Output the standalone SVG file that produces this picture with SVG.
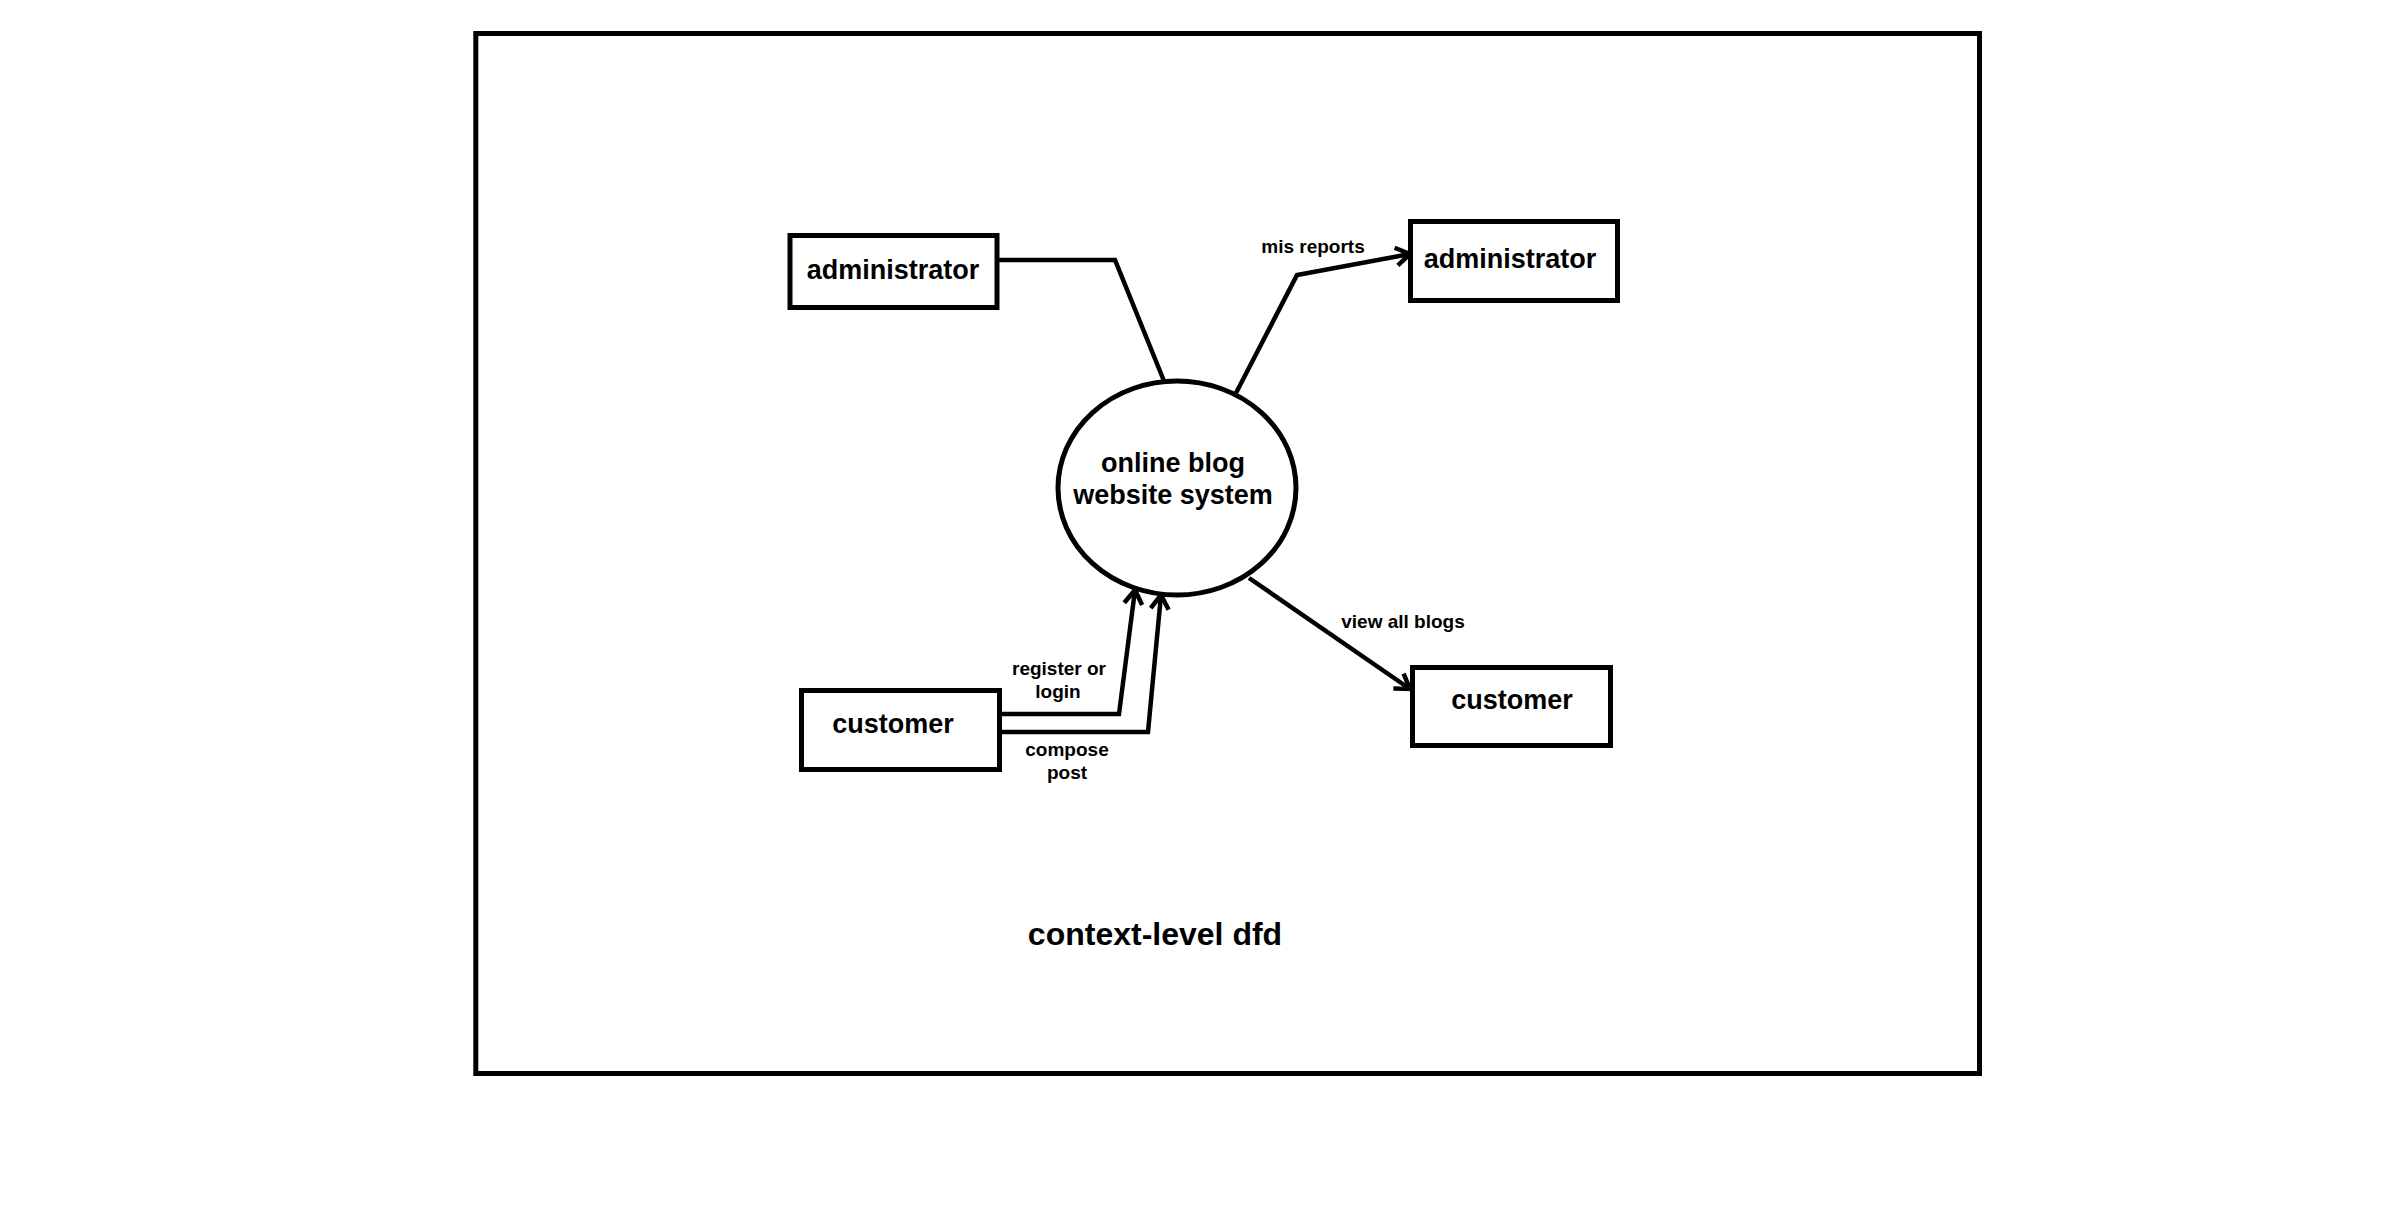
<svg xmlns="http://www.w3.org/2000/svg" width="2402" height="1210" viewBox="0 0 2402 1210">
<style>
.box{fill:#fff;stroke:#000;stroke-width:5}
.ln{fill:none;stroke:#000;stroke-width:4.5;stroke-linejoin:miter}
.t{font-family:"Liberation Sans",Arial,sans-serif;font-weight:bold;fill:#000;text-anchor:middle}
.big{font-size:27px}
.sm{font-size:19px}
.ttl{font-size:32px}
</style>
<defs>
<marker id="arr" markerUnits="userSpaceOnUse" markerWidth="24" markerHeight="24" viewBox="0 0 24 24" refX="18" refY="12" orient="auto">
<path d="M4,3 L18,12 L4,21" fill="none" stroke="#000" stroke-width="4.5"/>
</marker>
</defs>
<rect width="2402" height="1210" fill="#fff"/>
<rect id="frame" x="475.8" y="33.5" width="1503.7" height="1040" fill="none" stroke="#000" stroke-width="5"/>
<g id="connectors">
<polyline class="ln" points="999,260 1115,260 1164,381"/>
<polyline class="ln" points="1236,393 1297,275 1410,254" marker-end="url(#arr)"/>
<polyline class="ln" points="1002,714 1119,714 1135,590" marker-end="url(#arr)"/>
<polyline class="ln" points="1002,732 1148,732 1161,595" marker-end="url(#arr)"/>
<polyline class="ln" points="1249,578 1410,689" marker-end="url(#arr)"/>
<text class="t sm" x="1313" y="253">mis reports</text>
<text class="t sm" x="1059" y="675">register or</text>
<text class="t sm" x="1058" y="698">login</text>
<text class="t sm" x="1067" y="756">compose</text>
<text class="t sm" x="1067" y="779">post</text>
<text class="t sm" x="1403" y="628">view all blogs</text>
</g>
<g id="admin-left">
<rect class="box" x="790" y="235.5" width="207" height="72"/>
<text class="t big" x="893" y="279">administrator</text>
</g>
<g id="admin-right">
<rect class="box" x="1410.5" y="221.5" width="207" height="79"/>
<text class="t big" x="1510" y="268">administrator</text>
</g>
<g id="system">
<ellipse cx="1177" cy="488" rx="119" ry="107" fill="#fff" stroke="#000" stroke-width="5"/>
<text class="t big" x="1173" y="472">online blog</text>
<text class="t big" x="1173" y="504">website system</text>
</g>
<g id="customer-left">
<rect class="box" x="801.5" y="690.5" width="198" height="79"/>
<text class="t big" x="893" y="733">customer</text>
</g>
<g id="customer-right">
<rect class="box" x="1412.5" y="667.5" width="198" height="78"/>
<text class="t big" x="1512" y="709">customer</text>
</g>
<text id="title" class="t ttl" x="1155" y="945">context-level dfd</text>
</svg>
